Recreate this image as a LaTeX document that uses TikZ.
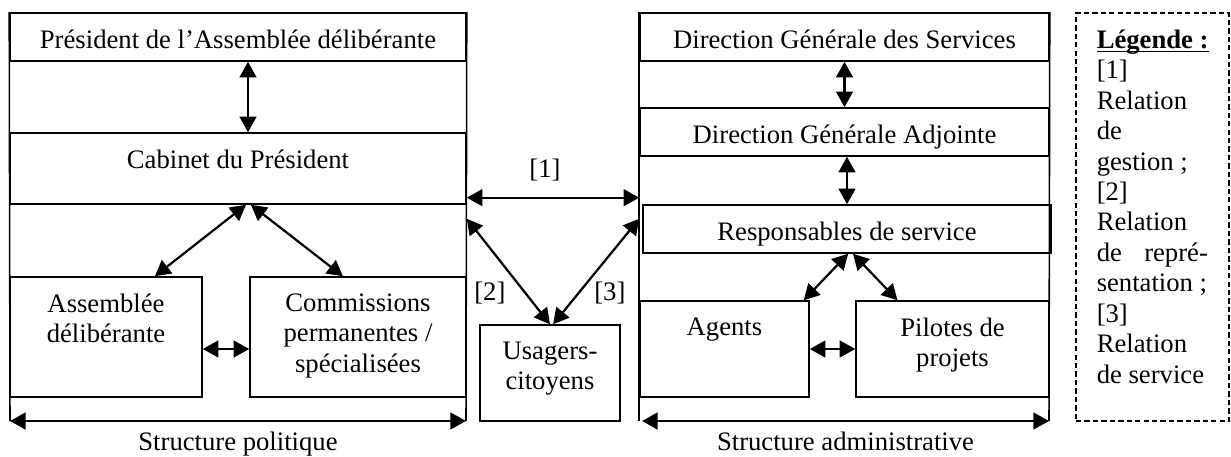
\documentclass[tikz,border=0pt]{standalone}
\usepackage{fontspec}
\setmainfont{Liberation Serif}
\usetikzlibrary{arrows.meta,fit}

\newcommand{\legunder}[1]{\setbox0\hbox{#1}\rlap{\rule[-1.8pt]{\wd0}{0.6pt}}\box0}

\begin{document}
\begin{tikzpicture}[x=0.45pt, y=-0.45pt,
                    font=\fontsize{12}{13.7}\selectfont,
                    box/.style={draw, line width=0.7pt, inner sep=0pt},
                    boxtext/.style={anchor=north, inner sep=0pt, align=center, yshift=-7.7pt},
                    side/.style={line width=0.7pt},
                    arr/.style={line width=1pt, {Triangle[length=7pt,width=7.5pt]}-{Triangle[length=7pt,width=7.5pt]}}]

  \useasboundingbox (0,0) rectangle (1231,457);

  % structure politique
  \node[box, fit={(10,13) (466,61)}] (pres) {};
  \node[box, fit={(10,133) (466,204)}] (cab) {};
  \node[box, fit={(10,277) (202,397)}] (assem) {};
  \node[box, fit={(250,277) (466,397)}] (comm) {};
  \coordinate (pol-w) at (10,421);
  \coordinate (pol-e) at (466,421);

  \node[boxtext] (pres-t) at (pres.north) {Président de l’Assemblée délibérante};
  \node[boxtext] (cab-t) at (cab.north) {Cabinet du Président};
  \node[boxtext] (assem-t) at (assem.north) {Assemblée\\délibérante};
  \node[boxtext] (comm-t) at (comm.north) {Commissions\\permanentes /\\spécialisées};

  \draw[side] (pres.north west) -- (pol-w);
  \draw[side] (pres.north east) -- (pol-e);
  \draw[arr] (pol-w) -- node[below=1pt] (pol-lab) {Structure politique} (pol-e);

  \draw[arr] ([xshift=4.5pt]pres.south) -- ([xshift=4.5pt]cab.north);
  \draw[arr] ([xshift=3.6pt]cab.south) -- ([xshift=22pt]assem.north);
  \draw[arr] ([xshift=5.8pt]cab.south) -- ([xshift=-6.8pt]comm.north);
  \draw[arr] ([yshift=-5.4pt]assem.east) -- ([yshift=-5.4pt]comm.west);

  % structure administrative
  \node[box, fit={(640,13) (1049,61)}] (dgs) {};
  \node[box, fit={(640,108) (1049,156)}] (dga) {};
  \node[box, fit={(643,205) (1051,253)}] (resp) {};
  \node[box, fit={(640,301) (809,397)}] (agents) {};
  \node[box, fit={(856,301) (1049,397)}] (pilotes) {};
  \coordinate (adm-w) at (642,421);
  \coordinate (adm-e) at (1049,421);

  \node[boxtext] (dgs-t) at (dgs.north) {Direction Générale des Services};
  \node[boxtext] (dga-t) at (dga.north) {Direction Générale Adjointe};
  \node[boxtext] (resp-t) at (resp.north) {Responsables de service};
  \node[boxtext] (agents-t) at (agents.north) {Agents};
  \node[boxtext] (pilotes-t) at (pilotes.north) {Pilotes de\\projets};

  \draw[side] (dgs.north west) -- (dgs.north west |- adm-w);
  \draw[side] (dgs.north east) -- (adm-e);
  \draw[arr] (adm-w) -- node[below=1pt] (adm-lab) {Structure administrative} (adm-e);

  \draw[arr] (dgs.south) -- (dga.north);
  \draw[arr] (dga.south -| resp.north) -- (resp.north);
  \draw[arr] ([xshift=0.5pt]resp.south) -- ([xshift=-2.7pt]agents.north east);
  \draw[arr] ([xshift=2.7pt]resp.south) -- ([xshift=19pt]pilotes.north west);
  \draw[arr] (agents.east) -- (pilotes.west);

  % usagers
  \node[box, fit={(480,325) (620,421)}] (usag) {};
  \node[boxtext] (usag-t) at (usag.north) {Usagers-\\citoyens};

  \coordinate (r1-w) at ([yshift=3.2pt]cab.south east);
  \coordinate (r2-w) at ([yshift=-6.3pt]cab.south east);
  \coordinate (r3-e) at (r2-w -| dgs.west);

  \draw[arr] (r1-w) -- node[above=3.6pt, xshift=-3.6pt] (r1-lab) {[1]} (r1-w -| dgs.west);
  \draw[arr] (r2-w) -- node[pos=0.7, left=5pt] (r2-lab) {[2]} (usag.north);
  \draw[arr] (r3-e) -- node[pos=0.705, right=3.3pt] (r3-lab) {[3]} ([xshift=1.4pt]usag.north);

  % legende
  \node[draw, dash pattern=on 2.4pt off 1.4pt, line width=0.7pt, inner sep=0pt,
        fit={(1076,13) (1229,421)}] (leg) {};
  \node[anchor=north west, inner sep=0pt, align=left, yshift=-7.7pt] (leg-t)
    at ([xshift=9.5pt]leg.north west)
    {\legunder{\textbf{Légende :}}\\{[1]}\\Relation\\de\\gestion ;\\{[2]}\\Relation\\
     \hbox to 50pt{de\hfill repré-}\\sentation ;\\{[3]}\\Relation\\de service};

\end{tikzpicture}
\end{document}
